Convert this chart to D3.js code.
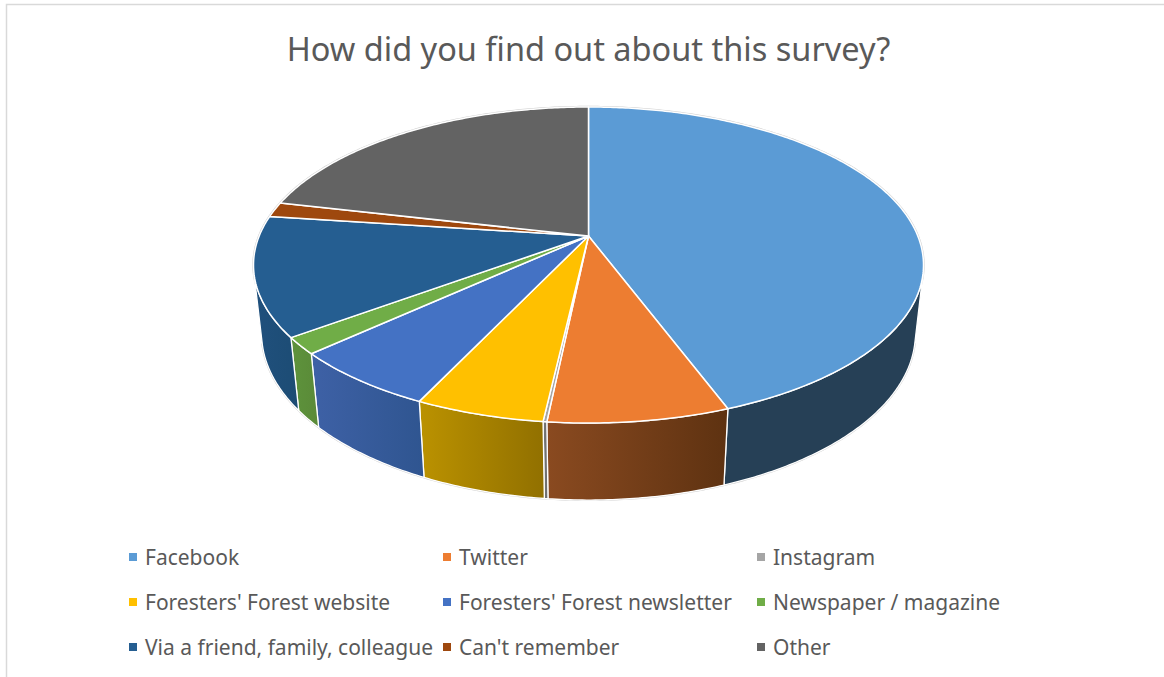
<!DOCTYPE html>
<html>
<head>
<meta charset="utf-8">
<script src="https://cdn.jsdelivr.net/npm/d3@7/dist/d3.min.js"></script>
<style>
html, body { margin: 0; padding: 0; background: #fff; }
svg { display: block; }
text { font-family: "Noto Sans", "Open Sans", sans-serif; fill: #595959; }
</style>
</head>
<body>
<svg id="chart" width="1164" height="677"></svg>
<script>
// Survey responses, share of respondents in percent
const chartTitle = "How did you find out about this survey?";
const categories = ["Facebook", "Twitter", "Instagram", "Foresters' Forest website",
  "Foresters' Forest newsletter", "Newspaper / magazine",
  "Via a friend, family, colleague", "Can't remember", "Other"];
const shares = [44.3, 7.35, 0.15, 5.25, 6.15, 1.7, 12.2, 1.5, 21.4];
const faceColors = ["#5B9BD5", "#ED7D31", "#A5A5A5", "#FFC000", "#4472C4", "#70AD47", "#255E91", "#9E480E", "#636363"];
const wallLight = ["#264056", "#8A4A20", "#7A7A7A", "#BB9200", "#3E61A6", "#5E933C", "#20507D", "#783609", "#4B4B4B"];
const wallDark = ["#264056", "#5E3211", "#6A6A6A", "#917000", "#2F5590", "#5A8A38", "#1C4C74", "#6A3008", "#4B4B4B"];

const svg = d3.select("#chart");

// Perspective camera for the tilted disc: u runs right, v runs away from the viewer, z runs down
const cam = { cx: 588.5, cy: 236, r: 329.3, lift: 152.7, tilt: 0.1836, depth: 69.2, shrink: 0.024 };
function project(angle, radius, z) {
  const u = radius * Math.sin(angle), v = radius * Math.cos(angle);
  const w = 1 + cam.tilt * v + cam.shrink * z;
  return [cam.cx + cam.r * u / w, cam.cy + (cam.depth * z - cam.lift * v) / w];
}
function arcPoints(a0, a1, z) {
  const n = Math.max(2, Math.ceil((a1 - a0) * 90));
  return d3.range(n + 1).map(i => project(a0 + (a1 - a0) * i / n, 1, z));
}

// Angle where the vertical rim edge runs tangent to the top circle, i.e. the cylinder's silhouette
function silhouetteAngle(from, to) {
  const candidates = d3.range(from, to, 0.002);
  return candidates[d3.leastIndex(candidates, (p, q) => Math.abs(rimTurn(p)) - Math.abs(rimTurn(q)))];
}
function rimTurn(a) {
  const t = project(a, 1, 0), b = project(a, 1, 1), n = project(a + 0.001, 1, 0);
  return (b[0] - t[0]) * (n[1] - t[1]) - (b[1] - t[1]) * (n[0] - t[0]);
}
const wallStart = silhouetteAngle(0.2 * Math.PI, 0.8 * Math.PI);
const wallEnd = silhouetteAngle(1.2 * Math.PI, 1.8 * Math.PI);

const line = d3.line();
const color = d3.scaleOrdinal().domain(categories).range(faceColors);
const slices = d3.pie().sort(null).value(d => d.share).startAngle(0).endAngle(2 * Math.PI)(
  categories.map((name, i) => ({ name, share: shares[i], index: i })));

// Chart frame: only the top and left edges fall inside the window
svg.append("path")
  .attr("d", line([[6.5, 677], [6.5, 4.5], [1164, 4.5]]))
  .attr("fill", "none").attr("stroke", "#D9D9D9").attr("stroke-width", 1.5);

// Title
svg.append("text").attr("x", 588.5).attr("y", 61).attr("text-anchor", "middle")
  .attr("font-size", 32.5).text(chartTitle);

const defs = svg.append("defs");
const pie3d = svg.append("g");

// Soft outline that sits just outside the disc and its lower rim
pie3d.append("path")
  .attr("d", line(arcPoints(wallStart, wallEnd, 1)))
  .attr("fill", "none").attr("stroke", "#CFCFCF").attr("stroke-width", 2);
pie3d.append("path")
  .attr("d", line(arcPoints(0, 2 * Math.PI, 0)) + "Z")
  .attr("fill", "none").attr("stroke", "#CFCFCF").attr("stroke-width", 2.4);

// Side walls along the visible front of the cylinder, each with its own left-to-right shading
slices.forEach(s => {
  const i = s.data.index;
  const a0 = Math.max(s.startAngle, wallStart), a1 = Math.min(s.endAngle, wallEnd);
  if (a1 <= a0) return;
  const top = arcPoints(a0, a1, 0), bottom = arcPoints(a0, a1, 1);
  const xs = d3.extent(top.concat(bottom), p => p[0]);
  const grad = defs.append("linearGradient").attr("id", "wall" + i)
    .attr("gradientUnits", "userSpaceOnUse")
    .attr("x1", xs[0]).attr("x2", xs[1]).attr("y1", 0).attr("y2", 0);
  grad.append("stop").attr("offset", 0).attr("stop-color", wallLight[i]);
  grad.append("stop").attr("offset", 1).attr("stop-color", wallDark[i]);
  pie3d.append("path")
    .attr("d", line(top.concat(bottom.reverse())) + "Z")
    .attr("fill", `url(#wall${i})`)
    .attr("stroke", "#fff").attr("stroke-width", 1.3).attr("stroke-linejoin", "round");
});

// Top faces meet at the projected centre of the disc
pie3d.selectAll("path.face").data(slices).join("path").attr("class", "face")
  .attr("d", s => line([project(0, 0, 0)].concat(arcPoints(s.startAngle, s.endAngle, 0))) + "Z")
  .attr("fill", s => color(s.data.name))
  .attr("stroke", "#fff").attr("stroke-width", 1.5).attr("stroke-linejoin", "round");

// Legend: three columns, three rows
const legendCols = [129, 443, 757], legendRows = [557, 602, 647];
const legend = svg.append("g").selectAll("g").data(categories).join("g")
  .attr("transform", (d, i) => `translate(${legendCols[i % 3]},${legendRows[Math.floor(i / 3)]})`);
legend.append("rect").attr("x", 0).attr("y", -4).attr("width", 8).attr("height", 8)
  .attr("fill", d => color(d));
legend.append("text").attr("x", 16).attr("y", 8).attr("font-size", 21).text(d => d);
</script>
</body>
</html>
